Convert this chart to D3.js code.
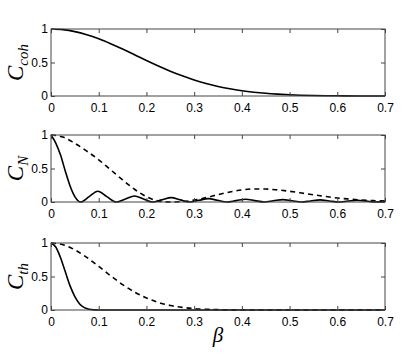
<!DOCTYPE html>
<html>
<head>
<meta charset="utf-8">
<script src="https://cdn.jsdelivr.net/npm/d3@7"></script>
<style>
  body { margin: 0; background: #fff; }
  svg { display: block; }
</style>
</head>
<body>
<script>
  // beta values and curves
  const betaCoh = [0, 0.025, 0.05, 0.075, 0.1, 0.125, 0.15, 0.175, 0.2, 0.225, 0.25, 0.275, 0.3,
    0.325, 0.35, 0.375, 0.4, 0.425, 0.45, 0.475, 0.5, 0.55, 0.6, 0.65, 0.7];
  const cohSolid = [1, 0.99, 0.961, 0.914, 0.853, 0.78, 0.7, 0.615, 0.529, 0.447, 0.37, 0.301, 0.239,
    0.187, 0.143, 0.107, 0.079, 0.057, 0.04, 0.028, 0.019, 0.008, 0.003, 0.001, 0];

  const betaNSolid = [0, 0.01, 0.02, 0.03, 0.04, 0.05, 0.062,
    0.08, 0.098, 0.117, 0.137,
    0.156, 0.175, 0.194, 0.213,
    0.232, 0.252, 0.271, 0.29,
    0.31, 0.33, 0.349, 0.368,
    0.388, 0.408, 0.427, 0.447,
    0.466, 0.486, 0.505, 0.525,
    0.544, 0.564, 0.583, 0.603,
    0.622, 0.642, 0.661, 0.68, 0.7];
  const nSolid = [1, 0.88, 0.7, 0.46, 0.24, 0.08, 0,
    0.08, 0.16, 0.08, 0,
    0.045, 0.09, 0.045, 0,
    0.032, 0.065, 0.032, 0,
    0.025, 0.05, 0.025, 0,
    0.021, 0.042, 0.021, 0,
    0.018, 0.036, 0.018, 0,
    0.016, 0.031, 0.016, 0,
    0.014, 0.027, 0.014, 0, 0.01];

  const betaNDashed = [0, 0.025, 0.05, 0.075, 0.1, 0.125, 0.15, 0.175, 0.2, 0.225, 0.25, 0.275, 0.3,
    0.325, 0.35, 0.375, 0.4, 0.425, 0.45, 0.475, 0.5, 0.525, 0.55, 0.575, 0.6, 0.625, 0.65, 0.675, 0.7];
  const nDashed = [1, 0.97, 0.875, 0.76, 0.63, 0.48, 0.33, 0.19, 0.08, 0.015, 0, 0.006, 0.028,
    0.065, 0.11, 0.15, 0.18, 0.195, 0.193, 0.18, 0.16, 0.135, 0.108, 0.083, 0.06, 0.044, 0.03, 0.02, 0.015];

  const betaThSolid = [0, 0.01, 0.02, 0.03, 0.04, 0.05, 0.06, 0.07, 0.08, 0.09, 0.1, 0.7];
  const thSolid = [1, 0.94, 0.78, 0.57, 0.36, 0.2, 0.09, 0.035, 0.01, 0.002, 0, 0];

  const betaThDashed = [0, 0.025, 0.05, 0.075, 0.1, 0.125, 0.15, 0.175, 0.2, 0.225, 0.25, 0.275, 0.3,
    0.325, 0.35, 0.375, 0.4, 0.45, 0.7];
  const thDashed = [1, 0.973, 0.898, 0.785, 0.65, 0.51, 0.38, 0.268, 0.179, 0.113, 0.068, 0.039, 0.021,
    0.011, 0.005, 0.002, 0.001, 0, 0];

  const xTicks = [0, 0.1, 0.2, 0.3, 0.4, 0.5, 0.6, 0.7];
  const yTicks = [0, 0.5, 1];

  const width = 415;
  const height = 356;
  const left = 51, right = 385, plotH = 67;

  const panels = [
    {top: 29, main: 'C', sub: 'coh', series: [{x: betaCoh, y: cohSolid, dash: null}]},
    {top: 135, main: 'C', sub: 'N', series: [
      {x: betaNSolid, y: nSolid, dash: null},
      {x: betaNDashed, y: nDashed, dash: '5,4'}]},
    {top: 243, main: 'C', sub: 'th', series: [
      {x: betaThSolid, y: thSolid, dash: null},
      {x: betaThDashed, y: thDashed, dash: '5,4'}]}
  ];

  const x = d3.scaleLinear().domain([0, 0.7]).range([left, right]);

  const svg = d3.select('body')
    .append('svg')
    .attr('width', width)
    .attr('height', height)
    .style('font-family', 'Liberation Sans, Arial, sans-serif');

  panels.forEach(p => {
    const y = d3.scaleLinear().domain([0, 1]).range([p.top + plotH, p.top]);
    const g = svg.append('g');

    const line = d3.line()
      .x(d => x(d[0]))
      .y(d => y(d[1]))
      .curve(d3.curveMonotoneX);

    // curves (dashed first so solid sits on top)
    p.series.slice().reverse().forEach(s => {
      g.append('path')
        .datum(s.x.map((b, i) => [b, s.y[i]]))
        .attr('fill', 'none')
        .attr('stroke', '#000')
        .attr('stroke-width', 1.6)
        .attr('stroke-dasharray', s.dash)
        .attr('d', line);
    });

    // box
    g.append('rect')
      .attr('x', left)
      .attr('y', p.top)
      .attr('width', right - left)
      .attr('height', plotH)
      .attr('fill', 'none')
      .attr('stroke', '#444')
      .attr('stroke-width', 1);

    // bottom axis with inward ticks
    g.append('g')
      .attr('transform', `translate(0,${p.top + plotH})`)
      .call(d3.axisBottom(x).tickValues(xTicks).tickSizeInner(-4).tickSizeOuter(0)
        .tickPadding(7).tickFormat(d3.format('')))
      .call(a => a.select('.domain').remove())
      .call(a => a.selectAll('line').attr('stroke', '#444'))
      .call(a => a.selectAll('text').attr('font-size', 12).attr('fill', '#000').attr('font-family', null));

    // top ticks
    g.append('g')
      .attr('transform', `translate(0,${p.top})`)
      .call(d3.axisTop(x).tickValues(xTicks).tickSizeInner(-4).tickSizeOuter(0).tickFormat(''))
      .call(a => a.select('.domain').remove())
      .call(a => a.selectAll('line').attr('stroke', '#444'));

    // left axis
    g.append('g')
      .attr('transform', `translate(${left},0)`)
      .call(d3.axisLeft(y).tickValues(yTicks).tickSizeInner(-4).tickSizeOuter(0)
        .tickPadding(3).tickFormat(d3.format('')))
      .call(a => a.select('.domain').remove())
      .call(a => a.selectAll('line').attr('stroke', '#444'))
      .call(a => a.selectAll('text').attr('font-size', 12).attr('fill', '#000').attr('font-family', null));

    // right ticks
    g.append('g')
      .attr('transform', `translate(${right},0)`)
      .call(d3.axisRight(y).tickValues(yTicks).tickSizeInner(-4).tickSizeOuter(0).tickFormat(''))
      .call(a => a.select('.domain').remove())
      .call(a => a.selectAll('line').attr('stroke', '#444'));

    // y label
    const lab = g.append('text')
      .attr('transform', `translate(23,${p.top + plotH / 2}) rotate(-90)`)
      .attr('text-anchor', 'middle')
      .attr('font-family', 'Liberation Serif, Times New Roman, serif')
      .attr('font-style', 'italic');
    lab.append('tspan').attr('font-size', 23).text(p.main);
    lab.append('tspan').attr('font-size', 15).attr('dy', 5).text(p.sub);
  });

  svg.append('text')
    .attr('x', x(0.35))
    .attr('y', 342)
    .attr('text-anchor', 'middle')
    .attr('font-family', 'Liberation Serif, Times New Roman, serif')
    .attr('font-style', 'italic')
    .attr('font-size', 21)
    .text('β');
</script>
</body>
</html>
